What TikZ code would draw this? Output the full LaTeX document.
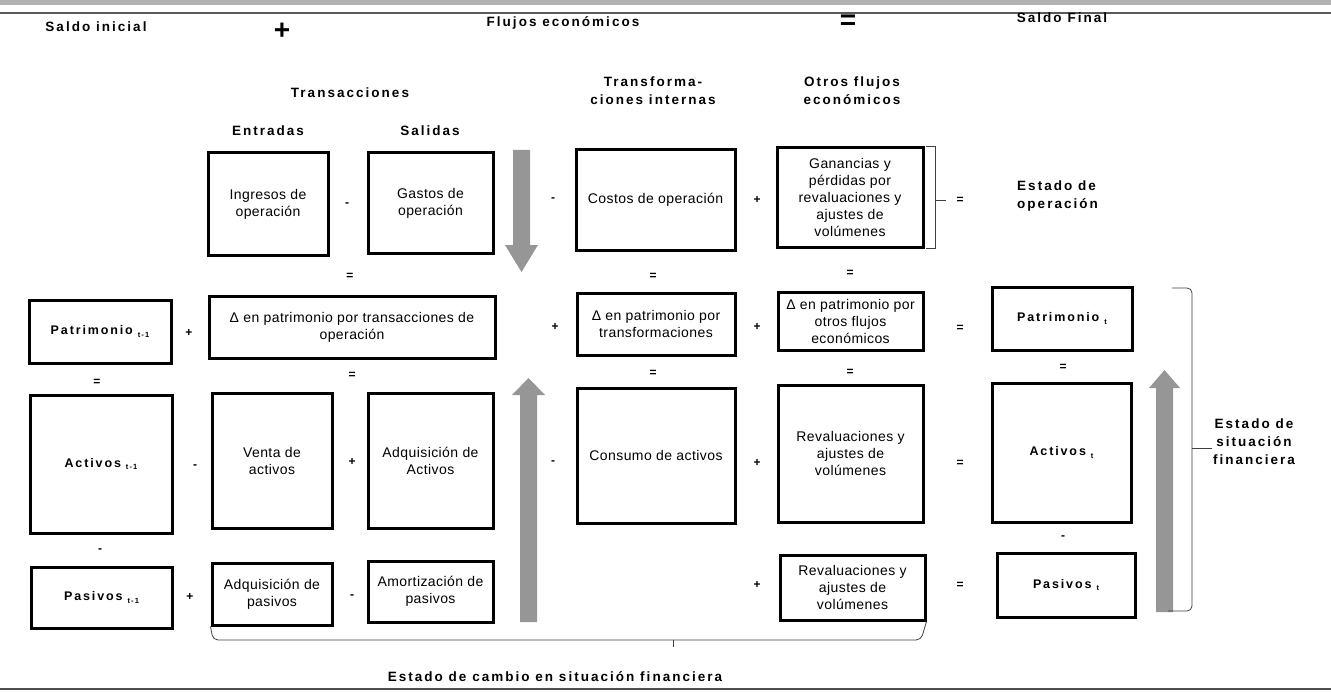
\documentclass[tikz,border=0pt]{standalone}
\usepackage{fontspec}
\setmainfont{Liberation Sans}
\newfontfamily\hdfont[LetterSpace=15]{Liberation Sans}
\newfontfamily\bxfont[LetterSpace=3]{Liberation Sans}
\usetikzlibrary{calc}
\newcommand\mybox[6]{\node[box, minimum width={#4-#2}, minimum height={#5-#3}] (#1) at ({(#2+#4)/2},{(#3+#5)/2}) {#6};}
\newcommand\sbt[1]{\hspace{5pt}{\fontsize{7.5}{8}\selectfont\raisebox{-2.5pt}{#1}}}
\begin{document}
\begin{tikzpicture}[x=1pt,y=-1pt,
  box/.style={draw, line width=3pt, inner sep=0pt, align=center, font=\bxfont\fontsize{14}{17}\selectfont},
  hd/.style={font=\hdfont\bfseries\fontsize{13.5}{18}\selectfont, align=center, inner sep=0pt},
  hdl/.style={hd, align=left},
  bt/.style={font=\hdfont\bfseries\fontsize{12.5}{17}\selectfont, inner sep=0pt},
  op/.style={font=\bfseries\fontsize{12}{12}\selectfont, inner sep=0pt},
  bigop/.style={font=\bfseries\fontsize{28}{28}\selectfont, inner sep=0pt},
  garrow/.style={fill={rgb,255:red,150;green,150;blue,150}, draw=none},
  brk/.style={draw=black!75, line width=0.8pt}]
\useasboundingbox (0,0) rectangle (1331,698);
\fill[white] (0,0) rectangle (1331,698);
% page rules
\fill[gray!60] (0,0) rectangle (1331,5);
\draw[gray!70!black, line width=1.6pt] (0,13) -- (1331,13);
\draw[gray!60!black, line width=2.6pt] (0,689) -- (1331,689);

% headings
\node[hd] (hsi) at (96,27) {Saldo inicial};
\node[bigop] (hplus) at (282,31) {+};
\node[hd] (hfe) at (563,23) {Flujos económicos};
\node[bigop] (heq) at (848,22) {=};
\node[hd] (hsf) at (1062,18) {Saldo Final};
\node[hd] (htr) at (350,93) {Transacciones};
\node[hd] (hti) at (653,91) {Transforma-\\ciones internas};
\node[hd] (hof) at (852,91) {Otros flujos\\económicos};
\node[hd] (hen) at (268,131) {Entradas};
\node[hd] (hsa) at (430,131) {Salidas};
\node[hdl, anchor=west] (heo) at (1017,196) {Estado de\\operación};
\node[hd] (hes) at (1254,442) {Estado de\\situación\\financiera};
\node[hd] (hec) at (555,677) {Estado de cambio en situación financiera};

% gray arrows
\fill[garrow] (513,150) -- (530,150) -- (530,245) -- (538,245) -- (521.5,272) -- (505,245) -- (513,245) -- cycle;
\fill[garrow] (520,622) -- (537,622) -- (537,395) -- (545,395) -- (528.5,378) -- (512,395) -- (520,395) -- cycle;
\fill[garrow] (1156,612) -- (1173,612) -- (1173,388) -- (1180,388) -- (1164.5,370) -- (1149,388) -- (1156,388) -- cycle;

% row 1
\mybox{ing}{208}{153}{328}{255}{Ingresos de\\operación}
\mybox{gas}{368}{153}{493}{253}{Gastos de\\operación}
\mybox{cos}{576}{150}{735}{250}{Costos de operación}
\mybox{gan}{777}{148}{923}{247}{\fontsize{14}{19.5}\selectfont Ganancias y\\pérdidas por\\revaluaciones y\\ajustes de\\volúmenes}
% row 2
\mybox{pat0}{29}{300}{171}{363}{}
\node[bt] (pat0t) at (pat0) {Patrimonio\sbt{t-1}};
\mybox{dtr}{209}{296}{495}{358}{Δ en patrimonio por transacciones de\\operación}
\mybox{dtf}{577}{293}{735}{355}{Δ en patrimonio por\\transformaciones}
\mybox{dof}{778}{292}{923}{350}{Δ en patrimonio por\\otros flujos\\económicos}
\mybox{pat1}{992}{287}{1132}{350}{}
\node[bt] (pat1t) at (pat1) {Patrimonio\sbt{t}};
% row 3
\mybox{act0}{30}{395}{172}{533}{}
\node[bt] (act0t) at (act0) {Activos\sbt{t-1}};
\mybox{ven}{212}{393}{332}{528}{Venta de\\activos}
\mybox{adqa}{368}{393}{493}{528}{Adquisición de\\Activos}
\mybox{con}{577}{388}{735}{523}{Consumo de activos}
\mybox{rev1}{778}{385}{923}{522}{Revaluaciones y\\ajustes de\\volúmenes}
\mybox{act1}{992}{383}{1131}{522}{}
\node[bt] (act1t) at (act1) {Activos\sbt{t}};
% row 4
\mybox{pas0}{31}{567}{172}{628}{}
\node[bt] (pas0t) at (pas0) {Pasivos\sbt{t-1}};
\mybox{adqp}{212}{563}{332}{625}{Adquisición de\\pasivos}
\mybox{amo}{368}{561}{493}{622}{Amortización de\\pasivos}
\mybox{rev2}{780}{555}{925}{620}{Revaluaciones y\\ajustes de\\volúmenes}
\mybox{pas1}{997}{553}{1135}{617}{}
\node[bt] (pas1t) at (pas1) {Pasivos\sbt{t}};

% operators row 1
\node[op] (o11) at (347,205) {-};
\node[op] (o12) at (553,200) {-};
\node[op] (o13) at (757,200) {+};
% row1 -> row2
\node[op] (e11) at (350,276) {=};
\node[op] (e12) at (653,276) {=};
\node[op] (e13) at (850,273) {=};
% row 2
\node[op] (o21) at (189,333) {+};
\node[op] (o22) at (555,327) {+};
\node[op] (o23) at (757,327) {+};
\node[op] (o24) at (960,328) {=};
% row2 -> row3
\node[op] (e21) at (97,382) {=};
\node[op] (e22) at (352,375) {=};
\node[op] (e23) at (653,373) {=};
\node[op] (e24) at (850,372) {=};
\node[op] (e25) at (1063,367) {=};
% row 3
\node[op] (o31) at (195,467) {-};
\node[op] (o32) at (352,462) {+};
\node[op] (o33) at (553,463) {-};
\node[op] (o34) at (757,463) {+};
\node[op] (o35) at (960,463) {=};
% row3 -> row4
\node[op] (e31) at (100,551) {-};
\node[op] (e32) at (1063,538) {-};
% row 4
\node[op] (o41) at (190,597) {+};
\node[op] (o42) at (352,597) {-};
\node[op] (o43) at (757,585) {+};
\node[op] (o44) at (960,585) {=};

% bracket: estado de operacion
\coordinate (b1m) at (935,200);
\coordinate (b1t) at (946,200);
\draw[brk] ($(gan.north east)+(1.5,0)$) -| (b1m) |- ($(gan.south east)+(1.5,0)$);
\draw[brk] (b1m) -- (b1t);
\node[op] (o15) at (960,200) {=};

% bracket: estado de situacion financiera
\coordinate (b2a) at (1172,288);
\coordinate (b2b) at (1192,288);
\coordinate (b2c) at (1192,611);
\coordinate (b2d) at (1168,611);
\coordinate (b2m) at (1192,448);
\coordinate (b2t) at (1212,448);
\draw[brk, rounded corners=5pt] (b2a) -- (b2b) -- (b2c) -- (b2d);
\draw[brk] (b2m) -- (b2t);

% bracket: estado de cambio en situacion financiera
\coordinate (b3b) at (213,640);
\coordinate (b3c) at (921,640);
\coordinate (b3m) at (673,640);
\coordinate (b3t) at (673,647);
\draw[brk, rounded corners=5pt] (adqp.south west) -- (b3b) -- (b3c) -- (rev2.south east);
\draw[brk] (b3m) -- (b3t);
\end{tikzpicture}
\end{document}
